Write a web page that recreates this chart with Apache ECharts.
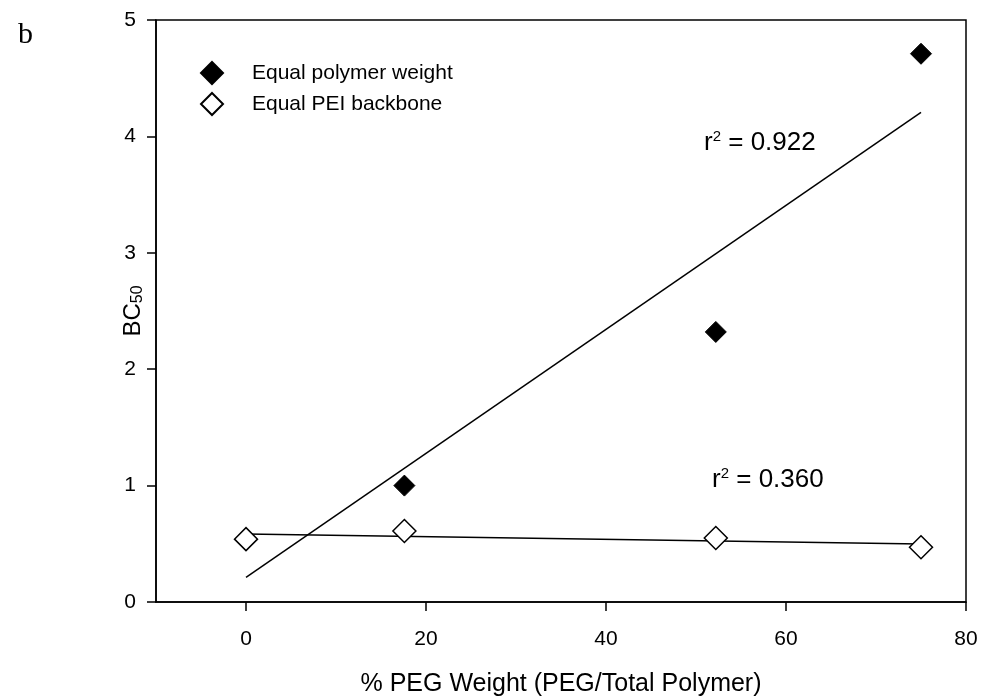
<!DOCTYPE html>
<html>
<head>
<meta charset="utf-8">
<script src="https://cdn.jsdelivr.net/npm/echarts@6/dist/echarts.min.js"></script>
<style>
  html, body { margin: 0; padding: 0; background: #fff; }
  #chart { width: 982px; height: 698px; }
</style>
</head>
<body>
<div id="chart"></div>
<script>
// % PEG weight of each copolymer
const pegWeight = [0, 17.6, 52.2, 75];
// BC50 at equal polymer weight
const equalWeight = [0.53, 1.0, 2.32, 4.71];
// BC50 at equal PEI backbone
const equalBackbone = [0.54, 0.61, 0.55, 0.47];
const xTicks = [0, 20, 40, 60, 80];
const r2Weight = '0.922';
const r2Backbone = '0.360';

const font = '"Liberation Sans", Arial, sans-serif';

function pairs(xs, ys) {
  return xs.map((x, i) => [x, ys[i]]);
}

// Least-squares trend line drawn across the measured x range
function trend(xs, ys) {
  const n = xs.length;
  const mx = xs.reduce((a, b) => a + b, 0) / n;
  const my = ys.reduce((a, b) => a + b, 0) / n;
  let sxx = 0, sxy = 0;
  for (let i = 0; i < n; i++) {
    sxx += (xs[i] - mx) * (xs[i] - mx);
    sxy += (xs[i] - mx) * (ys[i] - my);
  }
  const slope = sxy / sxx;
  const icpt = my - slope * mx;
  const x0 = Math.min(...xs), x1 = Math.max(...xs);
  return [[x0, icpt + slope * x0], [x1, icpt + slope * x1]];
}

const chart = echarts.init(document.getElementById('chart'), null, { renderer: 'canvas' });

const r2Rich = { sup: { fontFamily: font, fontSize: 15, padding: [0, 0, 13, 0] } };

chart.setOption({
  animation: false,
  backgroundColor: '#fff',
  grid: {
    left: 156, right: 16, top: 20, bottom: 96,
    show: true, borderColor: '#000', borderWidth: 1.5,
    containLabel: false, outerBoundsMode: 'none'
  },
  legend: {
    orient: 'vertical',
    left: 195, top: 56,
    itemWidth: 22, itemHeight: 22, itemGap: 7,
    textStyle: { fontFamily: font, fontSize: 21, color: '#000', padding: [0, 0, 0, 24] },
    data: [
      { name: 'Equal polymer weight', icon: 'diamond' },
      { name: 'Equal PEI backbone', icon: 'diamond' }
    ]
  },
  xAxis: {
    type: 'value', min: -10, max: 80,
    name: '% PEG Weight (PEG/Total Polymer)',
    nameLocation: 'middle', nameGap: 70,
    nameTextStyle: { fontFamily: font, fontSize: 25, color: '#000' },
    axisLine: { show: true, onZero: false, lineStyle: { color: '#000', width: 1.5 } },
    axisTick: { show: true, length: 9, lineStyle: { color: '#000', width: 1.5 }, customValues: xTicks },
    axisLabel: { fontFamily: font, fontSize: 21, color: '#000', margin: 27, customValues: xTicks },
    splitLine: { show: false }
  },
  yAxis: {
    type: 'value', min: 0, max: 5, interval: 1,
    name: 'BC{sub|50}',
    nameLocation: 'middle', nameGap: 10,
    nameMoveOverlap: false,
    nameRotate: 90,
    nameTextStyle: {
      fontFamily: font, fontSize: 24, color: '#000',
      rich: { sub: { fontFamily: font, fontSize: 16, color: '#000', padding: [10, 0, 0, 0] } }
    },
    axisLine: { show: true, onZero: false, lineStyle: { color: '#000', width: 1.5 } },
    axisTick: { show: true, length: 9, lineStyle: { color: '#000', width: 1.5 } },
    axisLabel: { fontFamily: font, fontSize: 21, color: '#000', margin: 20 },
    splitLine: { show: false }
  },
  series: [
    {
      name: 'fit weight', type: 'line', data: trend(pegWeight, equalWeight),
      symbol: 'none', lineStyle: { color: '#000', width: 1.5 }, z: 1, silent: true
    },
    {
      name: 'fit backbone', type: 'line', data: trend(pegWeight, equalBackbone),
      symbol: 'none', lineStyle: { color: '#000', width: 1.5 }, z: 1, silent: true
    },
    {
      name: 'Equal polymer weight', type: 'scatter', data: pairs(pegWeight, equalWeight),
      symbol: 'diamond', symbolSize: 21,
      itemStyle: { color: '#000', borderColor: '#000', borderWidth: 1, opacity: 1 }, z: 3
    },
    {
      name: 'Equal PEI backbone', type: 'scatter', data: pairs(pegWeight, equalBackbone),
      symbol: 'diamond', symbolSize: 23,
      itemStyle: { color: '#fff', borderColor: '#000', borderWidth: 1.5, opacity: 1 }, z: 4
    }
  ],
  graphic: [
    {
      type: 'text', left: 18, top: 20,
      style: { text: 'b', fontFamily: '"Liberation Serif", "Times New Roman", serif', fontSize: 30, fill: '#000' }
    },
    {
      type: 'text', left: 704, top: 129,
      style: { text: 'r{sup|2} = ' + r2Weight, fontFamily: font, fontSize: 26, fill: '#000', rich: r2Rich }
    },
    {
      type: 'text', left: 712, top: 466,
      style: { text: 'r{sup|2} = ' + r2Backbone, fontFamily: font, fontSize: 26, fill: '#000', rich: r2Rich }
    }
  ]
});
</script>
</body>
</html>
